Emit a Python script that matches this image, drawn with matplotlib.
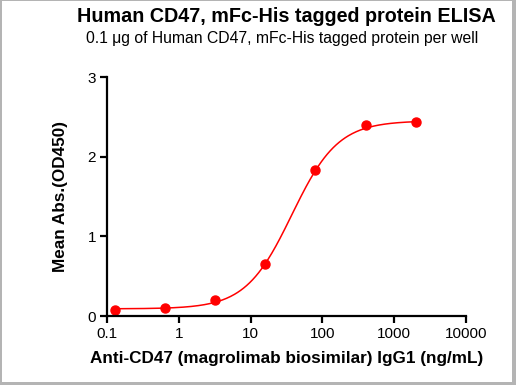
import numpy as np
import matplotlib
matplotlib.use("Agg")
import matplotlib.pyplot as plt
from matplotlib.patches import Rectangle

plt.rcParams['font.family'] = ['Liberation Sans', 'DejaVu Sans']

# antibody concentration (ng/mL) and mean OD450
conc = [0.128, 0.64, 3.2, 16, 80, 400, 2000]
od450 = [0.075, 0.096, 0.20, 0.658, 1.83, 2.40, 2.43]

# 4PL fit parameters
bottom, top, ec50, hill = 0.09, 2.45, 37.5, 1.35

x_ticks = [0.1, 1, 10, 100, 1000, 10000]
x_ticklabels = ["0.1", "1", "10", "100", "1000", "10000"]
y_ticks = [0, 1, 2, 3]

W, H = 516, 385
fig = plt.figure(figsize=(W / 100, H / 100), dpi=100)
ax = fig.add_axes([107 / W, 1 - 316 / H, 359 / W, 239 / H])

xs = np.logspace(np.log10(conc[0]), np.log10(conc[-1]), 300)
fit = bottom + (top - bottom) / (1 + (ec50 / xs) ** hill)
ax.plot(xs, fit, color="#ff0000", lw=1.1)
ax.plot(conc, od450, "o", color="#ff0000", ms=6.5, mec="#ff0000")

ax.set_xscale("log")
ax.set_xlim(0.1, 10000)
ax.set_ylim(0, 3)
ax.set_xticks(x_ticks)
ax.set_xticklabels(x_ticklabels)
ax.xaxis.set_minor_locator(matplotlib.ticker.NullLocator())
ax.set_yticks(y_ticks)

for s in ["top", "right"]:
    ax.spines[s].set_visible(False)
for s in ["left", "bottom"]:
    ax.spines[s].set_linewidth(1.6)
ax.tick_params(length=5, width=1.6, labelsize=11, pad=3)

ax.set_xlabel("Anti-CD47 (magrolimab biosimilar) IgG1 (ng/mL)", fontsize=12.3, fontweight="bold", labelpad=7)
ax.set_ylabel("Mean Abs.(OD450)", fontsize=12.3, fontweight="bold", labelpad=14)

fig.text(286 / W, 1 - 17 / H, "Human CD47, mFc-His tagged protein ELISA", ha="center", va="center",
         fontsize=14.2, fontweight="bold")
fig.text(282 / W, 1 - 38 / H, "0.1 \u03bcg of Human CD47, mFc-His tagged protein per well", ha="center",
         va="center", fontsize=11.3)

# grey frame around the picture (uneven widths like the original)
frame = "#b4b4b4"
for (x0, y0, w, h) in [(0, 0, 2, H), (W - 4, 0, 4, H), (0, H - 3, W, 3), (0, 0, W, 1)]:
    fig.patches.append(Rectangle((x0 / W, 1 - (y0 + h) / H), w / W, h / H, transform=fig.transFigure,
                                 facecolor=frame, edgecolor="none", clip_on=False))

fig.savefig("out.png", dpi=100)
